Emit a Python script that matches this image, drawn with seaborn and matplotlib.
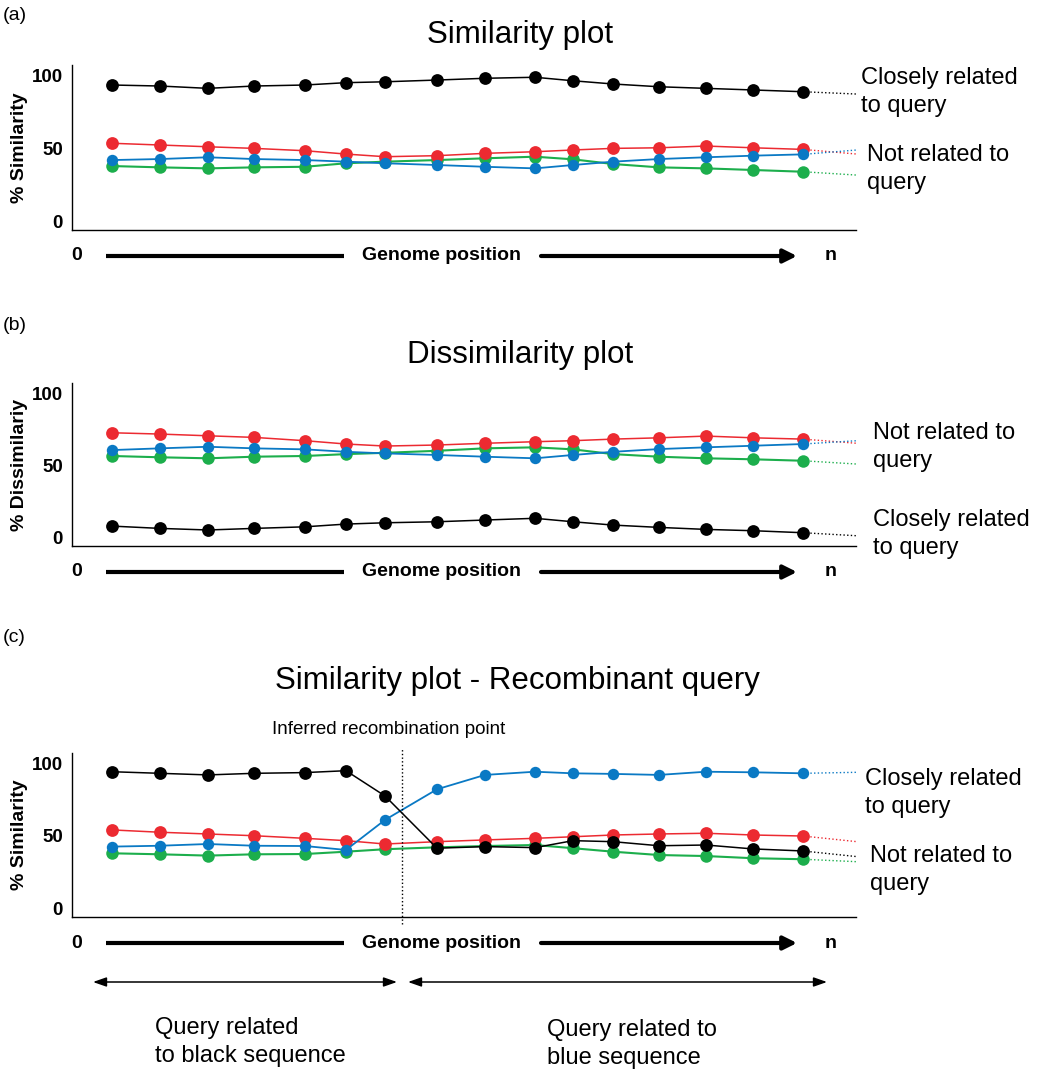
import matplotlib
matplotlib.use("Agg")
import matplotlib.pyplot as plt
import matplotlib.transforms as mtransforms
import seaborn as sns

W, H = 1045, 1070

sns.set_style("white")
plt.rcParams["font.family"] = ["Liberation Sans", "DejaVu Sans"]
plt.rcParams["text.color"] = "black"
plt.rcParams["axes.labelcolor"] = "black"
plt.rcParams["ytick.color"] = "black"
plt.rcParams["xtick.color"] = "black"

RED = "#EC2A31"
GREEN = "#1CAE4C"
BLUE = "#0A79C4"
BLACK = "#000000"

# window positions along the genome (axis units, 0 .. 785)
positions = [40, 88, 136, 182, 233, 274, 313, 365, 413, 463, 501, 541, 587, 634, 681, 731]
tail_pos = 785
recomb_pos = 330

# (a) similarity plot
sim_green = [37.8, 36.9, 36.2, 36.9, 37.3, 39.7, 40.8, 41.9, 43.1, 44.2, 42.4, 39.2, 36.9, 36.2, 35.1, 33.9]
sim_red = [53.4, 52.2, 51.0, 49.9, 48.3, 46.0, 44.2, 44.9, 46.5, 47.6, 48.8, 49.9, 50.3, 51.5, 50.3, 49.2]
sim_blue = [41.9, 42.6, 43.8, 42.6, 41.9, 40.8, 39.7, 38.5, 37.3, 36.2, 38.5, 40.8, 42.6, 43.8, 44.9, 45.8]
sim_black = [93.3, 92.6, 91.0, 92.6, 93.3, 94.9, 95.5, 96.7, 97.9, 98.6, 96.2, 94.0, 92.1, 91.0, 89.9, 88.7]
sim_tails = {"green": 31.6, "red": 46.0, "blue": 48.8, "black": 87.1}

# (b) dissimilarity plot
dis_green = [56.4, 55.5, 54.8, 55.9, 56.4, 57.7, 58.6, 60.0, 61.7, 62.4, 61.0, 57.7, 55.9, 54.8, 54.1, 53.1]
dis_red = [72.5, 71.6, 70.4, 69.3, 67.0, 64.7, 63.3, 64.0, 65.2, 66.3, 67.0, 68.1, 69.0, 70.2, 69.0, 68.1]
dis_blue = [60.5, 61.7, 62.8, 61.7, 61.0, 59.3, 58.2, 57.1, 55.9, 54.8, 57.1, 59.3, 61.2, 62.4, 63.5, 64.7]
dis_black = [7.8, 6.2, 5.1, 6.2, 7.3, 9.2, 10.1, 10.8, 12.0, 13.2, 10.8, 8.5, 6.9, 5.5, 4.6, 3.2]
dis_tails = {"green": 50.8, "red": 65.2, "blue": 67.0, "black": 1.1}

# (c) similarity plot, recombinant query
rec_green = [37.9, 37.2, 36.3, 37.2, 37.4, 39.0, 40.7, 42.0, 42.9, 43.6, 41.4, 39.0, 36.7, 36.0, 34.5, 33.8]
rec_red = [54.0, 52.4, 51.2, 50.0, 48.2, 46.6, 44.3, 45.9, 47.1, 48.2, 49.3, 50.5, 51.2, 51.7, 50.5, 49.8]
rec_blue = [42.5, 43.1, 44.3, 43.1, 42.9, 40.2, 60.9, 82.0, 91.9, 94.1, 93.0, 92.6, 91.9, 94.1, 93.7, 93.0]
rec_black = [94.1, 93.0, 91.9, 93.0, 93.5, 94.8, 77.4, 41.4, 42.5, 41.8, 46.6, 45.9, 43.1, 43.6, 40.9, 39.5]
rec_tails = {"green": 32.1, "red": 45.9, "blue": 93.7, "black": 35.6}

COLORS = {"green": GREEN, "red": RED, "blue": BLUE, "black": BLACK}
MSIZE = {"green": 9.0, "red": 9.2, "blue": 8.2, "black": 9.2}
LWIDTH = {"green": 1.5, "red": 1.1, "blue": 1.3, "black": 1.1}


def fx(x):
    return x / W


def fy(y):
    return 1 - y / H


def draw_panel(ax, series, tails, ylabel, height_px):
    for name, vals in series:
        c = COLORS[name]
        sns.lineplot(x=positions, y=vals, color=c, marker="o", markersize=MSIZE[name],
                     markeredgewidth=0, linewidth=LWIDTH[name], errorbar=None, ax=ax)
        sns.lineplot(x=[positions[-1], tail_pos], y=[vals[-1], tails[name]], color=c,
                     linestyle=":", linewidth=1.0, errorbar=None, ax=ax)
    for ln in ax.lines:
        ln.set_clip_on(False)
    ax.set_xlim(0, 784)
    ax.set_ylim(-6, 107)
    ax.set_xticks([])
    ax.set_yticks([0, 50, 100])
    ax.set_yticklabels(["0", "50", "100"], fontsize=13.5, fontweight="bold")
    ax.tick_params(axis="y", length=0, pad=6.5, colors="black")
    ax.set_xlabel("")
    ax.set_ylabel(ylabel, fontsize=14, fontweight="bold", color="black")
    ax.yaxis.set_label_coords(-0.056, 0.5)
    sns.despine(ax=ax)
    for s in ("left", "bottom"):
        ax.spines[s].set_linewidth(1.0)
        ax.spines[s].set_color("black")

    # genome position axis drawn underneath
    trans = mtransforms.blended_transform_factory(ax.transData, ax.transAxes)
    yg = -26 / height_px
    ax.text(5, yg, "0", transform=trans, ha="center", va="center",
            fontsize=14, fontweight="bold")
    ax.plot([34, 272], [yg, yg], transform=trans, color="black", lw=3,
            solid_capstyle="butt", clip_on=False)
    ax.text(370, yg, "Genome position", transform=trans, ha="center", va="center",
            fontsize=14, fontweight="bold")
    ax.annotate("", xy=(725, yg), xytext=(469, yg), xycoords=trans, textcoords=trans,
                arrowprops=dict(arrowstyle="-|>,head_length=0.4,head_width=0.2",
                                mutation_scale=20, lw=3, color="black",
                                shrinkA=0, shrinkB=0))
    ax.text(759, yg, "n", transform=trans, ha="center", va="center",
            fontsize=14, fontweight="bold")
    return trans


fig = plt.figure(figsize=(W / 100, H / 100), dpi=100)

ax_a = fig.add_axes([fx(72), fy(230), 784 / W, 165 / H])
ax_b = fig.add_axes([fx(72), fy(546), 784 / W, 163 / H])
ax_c = fig.add_axes([fx(72), fy(917), 784 / W, 164 / H])

draw_panel(ax_a, [("green", sim_green), ("red", sim_red), ("blue", sim_blue), ("black", sim_black)],
           sim_tails, "% Similarity", 165)
draw_panel(ax_b, [("green", dis_green), ("red", dis_red), ("blue", dis_blue), ("black", dis_black)],
           dis_tails, "% Dissimilariy", 163)
trans_c = draw_panel(ax_c, [("green", rec_green), ("red", rec_red), ("blue", rec_blue), ("black", rec_black)],
                     rec_tails, "% Similarity", 164)

# recombination point
ax_c.axvline(recomb_pos, ymin=-0.04, ymax=1.03, color="black", linestyle=":",
             linewidth=1.0, clip_on=False)
fig.text(fx(272), fy(721), "Inferred recombination point", fontsize=13.5,
         ha="left", va="top")

LS = 1.38

# regions below panel c
yarr = -65 / 164
arrow_kw = dict(arrowstyle="<|-|>,head_length=0.8,head_width=0.28", mutation_scale=10,
                lw=1.1, color="black", shrinkA=0, shrinkB=0)
ax_c.annotate("", xy=(325, yarr), xytext=(21, yarr), xycoords=trans_c,
              textcoords=trans_c, arrowprops=arrow_kw)
ax_c.annotate("", xy=(755, yarr), xytext=(336, yarr), xycoords=trans_c,
              textcoords=trans_c, arrowprops=arrow_kw)
fig.text(fx(155), fy(1017), "Query related\nto black sequence", fontsize=17,
         ha="left", va="top", linespacing=LS)
fig.text(fx(547), fy(1019), "Query related to\nblue sequence", fontsize=17,
         ha="left", va="top", linespacing=LS)

# panel titles and letters
fig.text(fx(520), fy(20), "Similarity plot", fontsize=22.5, ha="center", va="top")
fig.text(fx(520), fy(340), "Dissimilarity plot", fontsize=22.5, ha="center", va="top")
fig.text(fx(517), fy(666), "Similarity plot - Recombinant query", fontsize=22.5,
         ha="center", va="top")
fig.text(fx(3), fy(7), "(a)", fontsize=14, ha="left", va="top")
fig.text(fx(3), fy(317), "(b)", fontsize=14, ha="left", va="top")
fig.text(fx(3), fy(629), "(c)", fontsize=14, ha="left", va="top")

# right-hand labels
right_labels = [
    (861, 67, "Closely related\nto query"),
    (867, 144, "Not related to\nquery"),
    (873, 422, "Not related to\nquery"),
    (873, 509, "Closely related\nto query"),
    (865, 768, "Closely related\nto query"),
    (870, 845, "Not related to\nquery"),
]
for x, y, s in right_labels:
    fig.text(fx(x), fy(y), s, fontsize=17, ha="left", va="top", linespacing=LS)

fig.savefig("out.png", dpi=100, facecolor="white")
